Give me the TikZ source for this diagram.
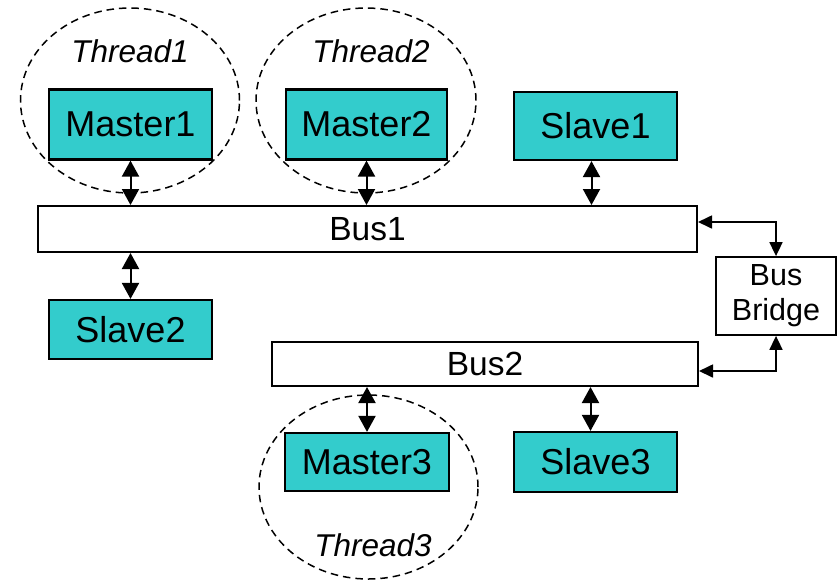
\documentclass[tikz,border=0pt]{standalone}
\usepackage{fontspec}
\setmainfont{Liberation Sans}
\usetikzlibrary{arrows.meta,shapes.geometric}
\definecolor{unitfill}{HTML}{33CCCC}
\tikzset{
  unit/.style={draw=black, line width=2.2pt, fill=unitfill, inner sep=0pt,
    font=\fontsize{36}{42}\selectfont, minimum width=163pt},
  busbox/.style={draw=black, line width=2pt, fill=white, inner sep=0pt,
    font=\fontsize{33.5}{40}\selectfont},
  bridgebox/.style={draw=black, line width=1.8pt, fill=white, inner sep=0pt,
    align=center, font=\fontsize{30.5}{35}\selectfont},
  threadring/.style={ellipse, draw=black, line width=1.5pt,
    dash pattern=on 7.5pt off 5pt, inner sep=0pt},
  threadlabel/.style={anchor=base, inner sep=0pt,
    font=\fontsize{31.5}{36}\selectfont\itshape},
  link/.style={line width=2pt, {Triangle[width=17pt,length=16pt]}-{Triangle[width=17pt,length=16pt]}},
  bridgelink/.style={line width=1.7pt, {Triangle[width=13pt,length=14pt]}-{Triangle[width=13pt,length=14pt]}}
}
\begin{document}
\begin{tikzpicture}[x=1pt,y=-1pt]
\useasboundingbox (0,0) rectangle (837,579);

% thread boundaries
\node[threadring, minimum width=219pt, minimum height=185pt] (ring1) at (130,100.5) {};
\node[threadring, minimum width=220pt, minimum height=185pt] (ring2) at (366,100.5) {};
\node[threadring, minimum width=219pt, minimum height=184pt] (ring3) at (368.5,487) {};
\node[threadlabel] (lab1) at (130,62) {Thread1};
\node[threadlabel] (lab2) at (371,62) {Thread2};
\node[threadlabel] (lab3) at (373,556) {Thread3};

% buses and bridge
\node[busbox, minimum width=659pt, minimum height=46pt] (bus1) at (367.5,229) {Bus1};
\node[busbox, minimum width=426pt, minimum height=44pt] (bus2) at (485,364) {Bus2};
\node[bridgebox, minimum width=120pt, minimum height=78pt] (bridge) at (776,296) {Bus\\Bridge};

% masters and slaves
\node[unit, minimum height=70pt] (m1) at (130.5,124.5) {Master1};
\node[unit, minimum width=161pt, minimum height=70pt] (m2) at (366.5,124.5) {Master2};
\node[unit, minimum height=68pt] (s1) at (595.5,126) {Slave1};
\node[unit, minimum height=59pt] (s2) at (130.5,329.5) {Slave2};
\node[unit, minimum width=164pt, minimum height=58pt] (m3) at (367,462) {Master3};
\node[unit, minimum height=60pt] (s3) at (595.5,462) {Slave3};

% bus connections
\draw[link] (m1.south) -- (m1.south |- bus1.north);
\draw[link] (m2.south) -- (m2.south |- bus1.north);
\draw[link] ([xshift=-4pt]s1.south) -- ([xshift=-4pt]s1.south |- bus1.north);
\draw[link] (s2.north) -- (s2.north |- bus1.south);
\draw[link] (m3.north) -- (m3.north |- bus2.south);
\draw[link] ([xshift=-5pt]s3.north) -- ([xshift=-5pt]s3.north |- bus2.south);

% bridge connections
\draw[bridgelink] ([yshift=7pt]bus1.east) -| (bridge.north);
\draw[bridgelink] ([yshift=-7pt]bus2.east) -| (bridge.south);
\end{tikzpicture}
\end{document}
